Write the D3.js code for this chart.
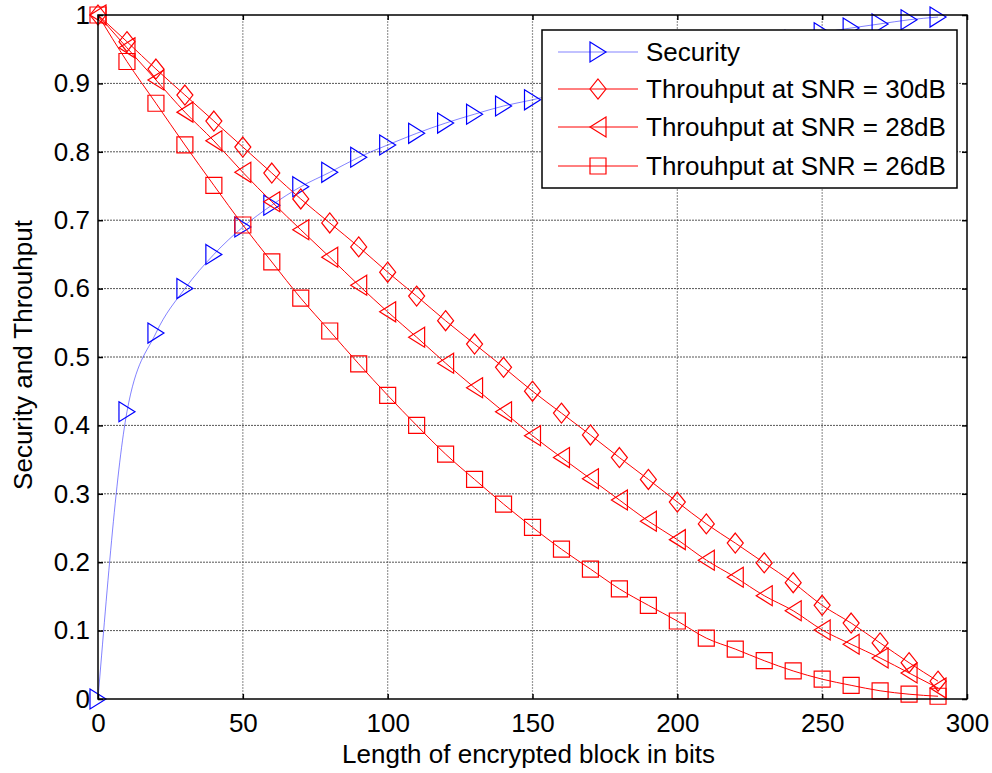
<!DOCTYPE html>
<html>
<head>
<meta charset="utf-8">
<script src="https://cdn.jsdelivr.net/npm/d3@7"></script>
<style>
  body { margin: 0; background: #fff; }
  text { font-family: "Liberation Sans", Arial, sans-serif; fill: #000; }
</style>
</head>
<body>
<script>
const w = 992;
const h = 773;
const margin = { left: 98, top: 15, right: 25, bottom: 74 };

// block length in bits
const bits = [0, 10, 20, 30, 40, 50, 60, 70, 80, 90, 100, 110, 120, 130, 140,
  150, 160, 170, 180, 190, 200, 210, 220, 230, 240, 250, 260, 270, 280, 290];

const security = [0, 0.42, 0.535, 0.60, 0.65, 0.69, 0.722, 0.749, 0.770, 0.792,
  0.810, 0.827, 0.842, 0.855, 0.867, 0.876, 0.886, 0.896, 0.906, 0.916,
  0.926, 0.936, 0.945, 0.954, 0.963, 0.974, 0.981, 0.987, 0.993, 0.997];

const snr30 = [1, 0.961, 0.921, 0.883, 0.845, 0.807, 0.769, 0.731, 0.696, 0.661,
  0.624, 0.589, 0.553, 0.519, 0.485, 0.450, 0.418, 0.386, 0.353, 0.321,
  0.288, 0.256, 0.228, 0.199, 0.170, 0.137, 0.111, 0.082, 0.053, 0.026];

const snr28 = [1, 0.952, 0.905, 0.858, 0.816, 0.770, 0.727, 0.686, 0.646, 0.605,
  0.566, 0.529, 0.491, 0.455, 0.420, 0.385, 0.353, 0.322, 0.291, 0.260,
  0.233, 0.203, 0.178, 0.151, 0.129, 0.101, 0.080, 0.060, 0.038, 0.016];

const snr26 = [1, 0.932, 0.871, 0.810, 0.751, 0.693, 0.639, 0.586, 0.538, 0.490,
  0.444, 0.400, 0.358, 0.321, 0.285, 0.251, 0.219, 0.190, 0.161, 0.137,
  0.114, 0.089, 0.073, 0.056, 0.041, 0.029, 0.020, 0.012, 0.007, 0.004];

const xTicks = [0, 50, 100, 150, 200, 250, 300];
const yTicks = [0, 0.1, 0.2, 0.3, 0.4, 0.5, 0.6, 0.7, 0.8, 0.9, 1];

const seriesNames = ["Security", "Throuhput at SNR = 30dB", "Throuhput at SNR = 28dB", "Throuhput at SNR = 26dB"];
const seriesValues = [security, snr30, snr28, snr26];
const seriesColors = ["#0000ff", "#ff0000", "#ff0000", "#ff0000"];
const seriesMarkers = ["triRight", "diamond", "triLeft", "square"];

const markerPath = {
  triRight: "M-8,-10L8,0L-8,10Z",
  diamond: "M0,-10L8,0L0,10L-8,0Z",
  triLeft: "M8,-10L-8,0L8,10Z",
  square: "M-8,-8L8,-8L8,8L-8,8Z"
};

const fontSize = "26px";

const pw = w - margin.left - margin.right;
const ph = h - margin.top - margin.bottom;

const svg = d3.select("body").append("svg").attr("width", w).attr("height", h);
const g = svg.append("g").attr("transform", "translate(" + margin.left + "," + margin.top + ")");

const xScale = d3.scaleLinear().domain([0, 300]).range([0, pw]);
const yScale = d3.scaleLinear().domain([0, 1]).range([ph, 0]);

// grid
g.append("g").selectAll("line")
  .data(xTicks.slice(1, -1))
  .enter().append("line")
  .attr("x1", d => xScale(d)).attr("x2", d => xScale(d))
  .attr("y1", 0).attr("y2", ph)
  .attr("stroke", "#999").attr("stroke-width", 1.2).attr("stroke-dasharray", "2,1");

g.append("g").selectAll("line")
  .data(yTicks.slice(1, -1))
  .enter().append("line")
  .attr("x1", 0).attr("x2", pw)
  .attr("y1", d => yScale(d)).attr("y2", d => yScale(d))
  .attr("stroke", "#555").attr("stroke-width", 1).attr("stroke-dasharray", "2,1");

// lines and markers
const line = d3.line()
  .x((d, i) => xScale(bits[i]))
  .y(d => yScale(d))
  .curve(d3.curveMonotoneX);

seriesValues.forEach((vals, k) => {
  g.append("path")
    .datum(vals)
    .attr("d", line)
    .attr("fill", "none")
    .attr("stroke", seriesColors[k])
    .attr("stroke-width", k === 0 ? 0.7 : 1)
    .attr("stroke-opacity", k === 0 ? 0.7 : 1);

  g.append("g").selectAll("path")
    .data(vals)
    .enter().append("path")
    .attr("transform", (d, i) => "translate(" + xScale(bits[i]) + "," + yScale(d) + ")")
    .attr("d", markerPath[seriesMarkers[k]])
    .attr("fill", "none")
    .attr("stroke", seriesColors[k])
    .attr("stroke-width", 1.2);
});

// axes
const xAxis = d3.axisBottom(xScale).tickValues(xTicks).tickSize(-5).tickPadding(15).tickFormat(d3.format("d"));
const yAxis = d3.axisLeft(yScale).tickValues(yTicks).tickSize(-5).tickPadding(8).tickFormat(d => d === 0 || d === 1 ? d : d3.format(".1f")(d));

g.append("g").attr("transform", "translate(0," + ph + ")").call(xAxis);
g.append("g").call(yAxis);
g.append("g").call(d3.axisTop(xScale).tickValues(xTicks).tickSize(-5).tickFormat(""));
g.append("g").attr("transform", "translate(" + pw + ",0)").call(d3.axisRight(yScale).tickValues(yTicks).tickSize(-5).tickFormat(""));

g.selectAll(".domain").remove();
g.selectAll(".tick line").attr("stroke", "#000").attr("stroke-width", 1.5);
g.selectAll(".tick text").style("font-size", fontSize).style("font-family", "'Liberation Sans', Arial, sans-serif");

g.append("rect")
  .attr("x", 0).attr("y", 0).attr("width", pw).attr("height", ph)
  .attr("fill", "none").attr("stroke", "#000").attr("stroke-width", 1.5);

// axis labels
svg.append("text")
  .attr("x", margin.left + pw / 2 - 4)
  .attr("y", 763)
  .attr("text-anchor", "middle")
  .style("font-size", fontSize)
  .text("Length of encrypted block in bits");

svg.append("text")
  .attr("transform", "translate(32," + (margin.top + ph / 2 - 2) + ") rotate(-90)")
  .attr("text-anchor", "middle")
  .style("font-size", fontSize)
  .text("Security and Throuhput");

// legend
const legend = svg.append("g").attr("transform", "translate(542,30)");
legend.append("rect")
  .attr("width", 415).attr("height", 158)
  .attr("fill", "#fff").attr("stroke", "#000").attr("stroke-width", 1.5);

const rowY = [22, 59, 97, 136];
seriesNames.forEach((name, k) => {
  const row = legend.append("g").attr("transform", "translate(0," + rowY[k] + ")");
  row.append("line")
    .attr("x1", 16).attr("x2", 96)
    .attr("stroke", seriesColors[k])
    .attr("stroke-width", k === 0 ? 0.7 : 1)
    .attr("stroke-opacity", k === 0 ? 0.7 : 1);
  row.append("path")
    .attr("transform", "translate(56,0)")
    .attr("d", markerPath[seriesMarkers[k]])
    .attr("fill", "none")
    .attr("stroke", seriesColors[k])
    .attr("stroke-width", 1.2);
  row.append("text")
    .attr("x", 104)
    .attr("dy", "0.36em")
    .style("font-size", fontSize)
    .text(name);
});
</script>
</body>
</html>
